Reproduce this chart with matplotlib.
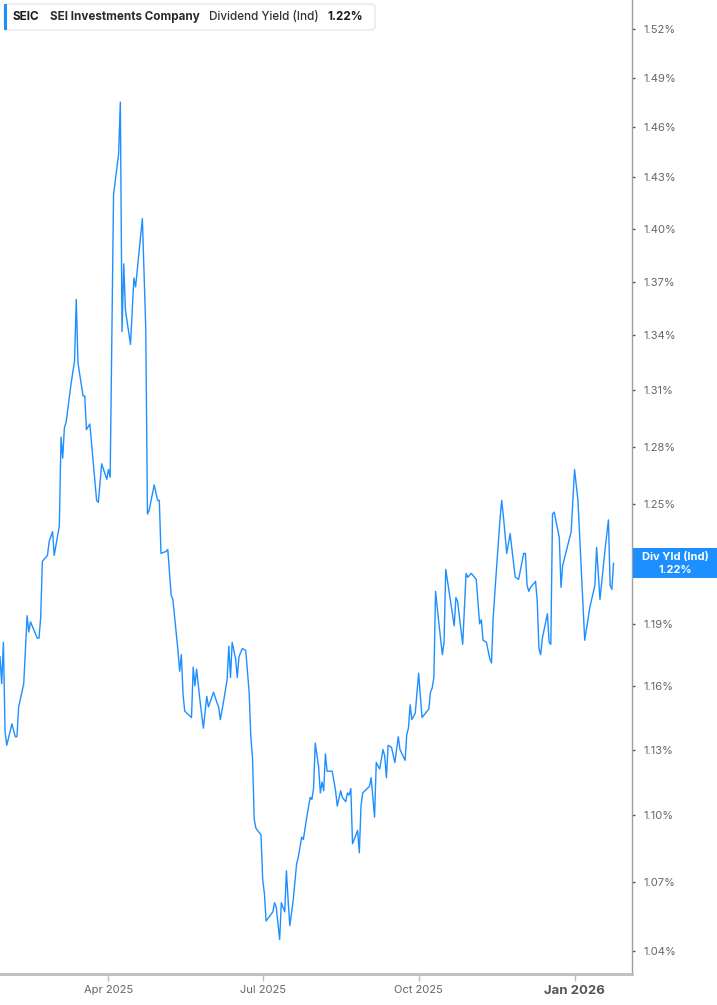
import matplotlib
matplotlib.use("Agg")
import matplotlib.pyplot as plt
import pandas as pd
from matplotlib.patches import FancyBboxPatch, Rectangle
from matplotlib.ticker import FixedLocator, FuncFormatter, NullLocator

# --------------------------------------------------
# Data: SEIC dividend yield (indicated), % values
# --------------------------------------------------

dates = [
    "2025-01-27", "2025-01-28", "2025-01-29", "2025-01-30", "2025-01-31", "2025-02-03", "2025-02-05", "2025-02-06", "2025-02-07", "2025-02-10",
    "2025-02-12", "2025-02-13", "2025-02-14", "2025-02-18", "2025-02-19", "2025-02-20", "2025-02-21", "2025-02-24", "2025-02-25", "2025-02-27",
    "2025-02-28", "2025-03-03", "2025-03-04", "2025-03-05", "2025-03-06", "2025-03-07", "2025-03-10", "2025-03-12", "2025-03-13", "2025-03-14",
    "2025-03-17", "2025-03-18", "2025-03-19", "2025-03-21", "2025-03-25", "2025-03-26", "2025-03-28", "2025-03-31", "2025-04-01", "2025-04-02",
    "2025-04-04", "2025-04-07", "2025-04-08", "2025-04-09", "2025-04-10", "2025-04-11", "2025-04-14", "2025-04-16", "2025-04-17", "2025-04-21",
    "2025-04-23", "2025-04-24", "2025-04-25", "2025-04-28", "2025-04-30", "2025-05-01", "2025-05-02", "2025-05-05", "2025-05-06", "2025-05-08",
    "2025-05-09", "2025-05-12", "2025-05-13", "2025-05-14", "2025-05-15", "2025-05-16", "2025-05-20", "2025-05-21", "2025-05-22", "2025-05-23",
    "2025-05-25", "2025-05-27", "2025-05-29", "2025-05-30", "2025-06-02", "2025-06-04", "2025-06-05", "2025-06-06", "2025-06-08", "2025-06-10",
    "2025-06-11", "2025-06-12", "2025-06-13", "2025-06-15", "2025-06-16", "2025-06-17", "2025-06-19", "2025-06-21", "2025-06-23", "2025-06-24",
    "2025-06-25", "2025-06-26", "2025-06-27", "2025-06-30", "2025-07-01", "2025-07-02", "2025-07-03", "2025-07-07", "2025-07-08", "2025-07-09",
    "2025-07-11", "2025-07-12", "2025-07-14", "2025-07-15", "2025-07-16", "2025-07-17", "2025-07-19", "2025-07-21", "2025-07-22", "2025-07-24",
    "2025-07-25", "2025-07-27", "2025-07-29", "2025-07-30", "2025-07-31", "2025-08-01", "2025-08-03", "2025-08-04", "2025-08-05", "2025-08-06",
    "2025-08-07", "2025-08-08", "2025-08-11", "2025-08-13", "2025-08-14", "2025-08-16", "2025-08-17", "2025-08-19", "2025-08-20", "2025-08-21",
    "2025-08-22", "2025-08-23", "2025-08-26", "2025-08-27", "2025-08-28", "2025-08-29", "2025-09-02", "2025-09-03", "2025-09-05", "2025-09-06",
    "2025-09-08", "2025-09-10", "2025-09-11", "2025-09-12", "2025-09-13", "2025-09-15", "2025-09-17", "2025-09-19", "2025-09-20", "2025-09-23",
    "2025-09-24", "2025-09-25", "2025-09-26", "2025-09-27", "2025-09-29", "2025-10-01", "2025-10-03", "2025-10-07", "2025-10-08", "2025-10-09",
    "2025-10-10", "2025-10-11", "2025-10-13", "2025-10-15", "2025-10-16", "2025-10-17", "2025-10-20", "2025-10-22", "2025-10-23", "2025-10-24",
    "2025-10-27", "2025-10-29", "2025-10-30", "2025-11-01", "2025-11-04", "2025-11-06", "2025-11-07", "2025-11-08", "2025-11-10", "2025-11-12",
    "2025-11-13", "2025-11-14", "2025-11-16", "2025-11-18", "2025-11-19", "2025-11-20", "2025-11-22", "2025-11-24", "2025-11-27", "2025-11-29",
    "2025-12-02", "2025-12-03", "2025-12-04", "2025-12-05", "2025-12-06", "2025-12-09", "2025-12-10", "2025-12-11", "2025-12-12", "2025-12-13",
    "2025-12-16", "2025-12-17", "2025-12-18", "2025-12-19", "2025-12-20", "2025-12-23", "2025-12-24", "2025-12-25", "2025-12-30", "2026-01-01",
    "2026-01-03", "2026-01-07", "2026-01-10", "2026-01-13", "2026-01-14", "2026-01-16", "2026-01-19", "2026-01-21", "2026-01-22", "2026-01-23",
    "2026-01-24",
]

yld = [
    1.174, 1.161, 1.181, 1.138, 1.132, 1.142, 1.136, 1.136, 1.150, 1.161,
    1.194, 1.186, 1.191, 1.183, 1.183, 1.193, 1.221, 1.224, 1.231, 1.236,
    1.224, 1.239, 1.285, 1.274, 1.290, 1.293, 1.314, 1.326, 1.360, 1.325,
    1.307, 1.307, 1.289, 1.292, 1.252, 1.251, 1.271, 1.263, 1.268, 1.264,
    1.420, 1.444, 1.475, 1.342, 1.380, 1.354, 1.335, 1.372, 1.367, 1.406,
    1.344, 1.245, 1.247, 1.260, 1.252, 1.252, 1.225, 1.226, 1.227, 1.204,
    1.202, 1.177, 1.167, 1.175, 1.156, 1.148, 1.145, 1.169, 1.160, 1.168,
    1.153, 1.140, 1.155, 1.150, 1.157, 1.152, 1.150, 1.144, 1.153, 1.163,
    1.179, 1.164, 1.181, 1.173, 1.164, 1.174, 1.178, 1.177, 1.157, 1.136,
    1.126, 1.098, 1.094, 1.091, 1.071, 1.065, 1.053, 1.057, 1.061, 1.059,
    1.045, 1.061, 1.057, 1.075, 1.062, 1.051, 1.062, 1.078, 1.081, 1.090,
    1.089, 1.099, 1.108, 1.107, 1.112, 1.133, 1.122, 1.110, 1.115, 1.111,
    1.128, 1.120, 1.120, 1.111, 1.104, 1.111, 1.108, 1.106, 1.110, 1.109,
    1.112, 1.087, 1.093, 1.083, 1.104, 1.110, 1.113, 1.117, 1.099, 1.124,
    1.121, 1.130, 1.127, 1.117, 1.132, 1.131, 1.124, 1.136, 1.130, 1.125,
    1.137, 1.140, 1.151, 1.144, 1.147, 1.166, 1.145, 1.149, 1.157, 1.159,
    1.164, 1.206, 1.190, 1.175, 1.181, 1.217, 1.200, 1.189, 1.203, 1.201,
    1.180, 1.215, 1.213, 1.215, 1.212, 1.190, 1.192, 1.182, 1.181, 1.173,
    1.171, 1.193, 1.218, 1.242, 1.252, 1.244, 1.225, 1.235, 1.213, 1.212,
    1.225, 1.225, 1.209, 1.206, 1.208, 1.211, 1.201, 1.178, 1.175, 1.183,
    1.195, 1.181, 1.180, 1.245, 1.246, 1.233, 1.208, 1.219, 1.236, 1.268,
    1.252, 1.182, 1.198, 1.209, 1.228, 1.202, 1.227, 1.242, 1.209, 1.207,
    1.220,
]

y_ticks = [1.04, 1.07, 1.10, 1.13, 1.16, 1.19, 1.22, 1.25, 1.28, 1.31,
           1.34, 1.37, 1.40, 1.43, 1.46, 1.49, 1.52]
x_tick_dates = ["2025-04-01", "2025-07-01", "2025-10-01", "2026-01-01"]
x_tick_labels = ["Apr 2025", "Jul 2025", "Oct 2025", "Jan 2026"]

ticker = "SEIC"
company = "SEI Investments Company"
metric = "Dividend Yield (Ind)"
short_metric = "Div Yld (Ind)"

# --------------------------------------------------
# Figure
# --------------------------------------------------

plt.rcParams["font.family"] = ["Inter", "DejaVu Sans"]

BLUE = "#1e8fff"
W, H = 717, 1005
fig = plt.figure(figsize=(W / 100, H / 100), dpi=100)
ax = fig.add_axes([0, 31 / H, 632 / W, 974 / H])

ax.plot(pd.to_datetime(dates), yld, color=BLUE, lw=1.0)

ax.set_yscale("log")
ax.set_ylim(1.0303, 1.5383)
start = pd.Timestamp("2025-01-27")
ax.set_xlim(start, start + pd.Timedelta(days=372.9))


def pct_label(v, pos):
    # the tick under the last-value badge is covered in the original
    if abs(v - yld[-1]) < 0.005:
        return ""
    return f"{v:.2f}%"


ax.yaxis.tick_right()
ax.yaxis.set_major_locator(FixedLocator(y_ticks))
ax.yaxis.set_minor_locator(NullLocator())
ax.yaxis.set_major_formatter(FuncFormatter(pct_label))
ax.tick_params(axis="y", length=2, width=1, color="#555555", pad=6,
               labelsize=8, labelcolor="#666666")

ax.set_xticks(pd.to_datetime(x_tick_dates))
ax.set_xticklabels(x_tick_labels)
ax.xaxis.set_minor_locator(NullLocator())
ax.tick_params(axis="x", length=5, width=1, color="#bdbdbd", pad=3,
               labelsize=8, labelcolor="#666666")
last_lbl = ax.get_xticklabels()[-1]
last_lbl.set_fontweight("bold")
last_lbl.set_fontsize(9.5)
last_lbl.set_color("#555555")

ax.spines["top"].set_visible(False)
ax.spines["left"].set_visible(False)
ax.spines["right"].set_color("#9e9e9e")
ax.spines["right"].set_linewidth(1)
ax.spines["bottom"].set_color("#bdbdbd")
ax.spines["bottom"].set_linewidth(2)

# last-value label on the right axis
y_px = ax.transData.transform((0, yld[-1]))[1]
fig.patches.append(Rectangle((633 / W, (y_px - 15) / H), (W - 633) / W, 30 / H,
                             transform=fig.transFigure, facecolor=BLUE,
                             edgecolor="none", zorder=5))
fig.text(675 / W, (y_px + 6.5) / H, short_metric, color="white", fontsize=8,
         fontweight="bold", ha="center", va="center", zorder=6)
fig.text(675 / W, (y_px - 6.5) / H, f"{yld[-1]:.2f}%", color="white", fontsize=8,
         fontweight="bold", ha="center", va="center", zorder=6)

# header legend box
fig.patches.append(FancyBboxPatch((4 / W, 1 - 30 / H), 371 / W, 26 / H,
                                  boxstyle="round,pad=0,rounding_size=0.004",
                                  transform=fig.transFigure, facecolor="white",
                                  edgecolor="#e2e2e2", lw=0.8, zorder=5))
fig.patches.append(Rectangle((4 / W, 1 - 30 / H), 3 / W, 26 / H,
                             transform=fig.transFigure, facecolor=BLUE,
                             edgecolor="none", zorder=6))
ty = 1 - 17 / H
fig.text(13 / W, ty, ticker, fontsize=8.4, fontweight="bold", color="#1a1a1a",
         va="center", zorder=7)
fig.text(50 / W, ty, company, fontsize=8.4, fontweight="bold", color="#2a2a2a",
         va="center", zorder=7)
fig.text(209 / W, ty, metric, fontsize=8.4, fontweight="medium", color="#333333",
         va="center", zorder=7)
fig.text(327 / W, ty, f"{yld[-1]:.2f}%", fontsize=8.4, fontweight="bold",
         color="#1a1a1a", va="center", zorder=7)

fig.savefig("out.png", dpi=100, facecolor="white")
